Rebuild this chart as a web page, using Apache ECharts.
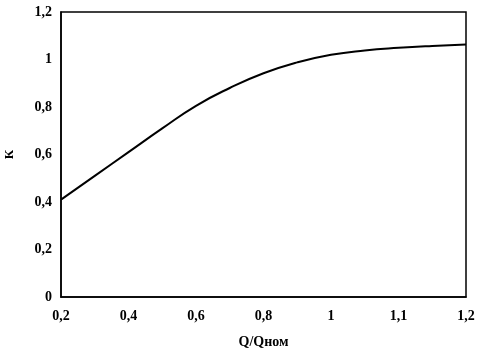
<!DOCTYPE html>
<html>
<head>
<meta charset="utf-8">
<script src="https://cdn.jsdelivr.net/npm/echarts@6/dist/echarts.min.js"></script>
<style>
  html, body { margin: 0; padding: 0; background: #fff; }
  #chart { width: 485px; height: 353px; }
</style>
</head>
<body>
<div id="chart"></div>
<script>
// x axis labels are evenly spaced (category-like), curve positions given by label index
const xLabels = ['0,2', '0,4', '0,6', '0,8', '1', '1,1', '1,2'];
const xPos = [0, 0.5, 1, 1.5, 2, 2.5, 3, 3.5, 4, 4.5, 5, 5.5, 6];
const kValues = [0.41, 0.51, 0.61, 0.71, 0.805, 0.88, 0.942, 0.988, 1.02, 1.038, 1.049, 1.057, 1.063];
const yLabels = ['0', '0,2', '0,4', '0,6', '0,8', '1', '1,2'];

const font = { fontFamily: 'Liberation Serif', fontWeight: 'bold', fontSize: 14, color: '#000' };

const chart = echarts.init(document.getElementById('chart'));
chart.setOption({
  animation: false,
  grid: {
    left: 61, right: 19, top: 12, bottom: 56,
    outerBoundsMode: 'none',
    containLabel: false,
    show: true,
    borderColor: '#000',
    borderWidth: 1.5,
  },
  xAxis: {
    type: 'value',
    min: 0,
    max: 6,
    interval: 1,
    name: 'Q/Qном',
    nameLocation: 'middle',
    nameGap: 38,
    nameTextStyle: { ...font, fontSize: 14 },
    axisLine: { show: true, lineStyle: { color: '#000', width: 1.5 } },
    axisTick: { show: false },
    splitLine: { show: false },
    axisLabel: {
      ...font,
      margin: 12,
      formatter: (v) => xLabels[Math.round(v)] || '',
    },
  },
  yAxis: {
    type: 'value',
    min: 0,
    max: 1.2,
    interval: 0.2,
    name: 'К',
    nameLocation: 'middle',
    nameGap: 45,
    nameRotate: 90,
    nameTextStyle: { ...font, fontSize: 13 },
    axisLine: { show: true, lineStyle: { color: '#000', width: 1.5 } },
    axisTick: { show: false },
    splitLine: { show: false },
    axisLabel: {
      ...font,
      margin: 9,
      formatter: (v) => yLabels[Math.round(v * 5)] || '',
    },
  },
  series: [{
    type: 'line',
    data: xPos.map((x, i) => [x, kValues[i]]),
    smooth: true,
    showSymbol: false,
    lineStyle: { color: '#000', width: 2 },
  }],
});
</script>
</body>
</html>
